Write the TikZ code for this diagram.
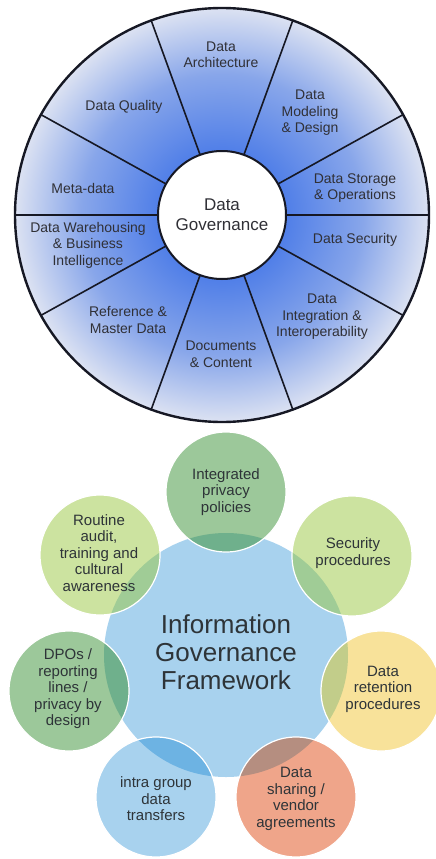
\documentclass[tikz,border=0pt]{standalone}
\usepackage{xcolor}
\usepackage{fontspec}
\setmainfont{Liberation Sans}
\usepackage{tikz}

\definecolor{wheelin}{RGB}{82,128,232}
\definecolor{wheelmid}{RGB}{136,166,234}
\definecolor{wheelout}{RGB}{220,226,242}
\definecolor{rimline}{RGB}{22,24,36}
\definecolor{labeltext}{RGB}{48,48,54}
\definecolor{hubblue}{RGB}{168,210,238}
\definecolor{greenmid}{RGB}{156,200,154}
\definecolor{greenover}{RGB}{111,176,140}
\definecolor{greenlight}{RGB}{204,227,160}
\definecolor{lightover}{RGB}{160,204,150}
\definecolor{yellowsat}{RGB}{248,226,154}
\definecolor{yellowover}{RGB}{194,205,138}
\definecolor{salmonsat}{RGB}{239,165,138}
\definecolor{salmonover}{RGB}{181,142,128}
\definecolor{blueover}{RGB}{109,179,227}
\definecolor{sattextcol}{RGB}{46,52,56}

\pgfdeclareradialshading{wheelshade}{\pgfpoint{0bp}{0bp}}{color(0bp)=(wheelin); color(8bp)=(wheelin); color(17bp)=(wheelmid); color(25bp)=(wheelout); color(50bp)=(wheelout)}

\tikzset{
  spoke/.style={draw=rimline, line width=1.6pt},
  seg/.style={font=\fontsize{14}{16.5}\selectfont, text=labeltext, align=center, inner sep=0pt},
  hubwhite/.style={circle, fill=white, draw=rimline, line width=2pt, minimum size=128pt, inner sep=0pt,
    font=\fontsize{17}{20}\selectfont, text=labeltext, align=center},
  title/.style={font=\fontsize{26}{28}\selectfont, text=sattextcol, align=center, inner sep=0pt},
  sattext/.style={font=\fontsize{15}{16.5}\selectfont, text=sattextcol, align=center, inner sep=0pt}
}

\begin{document}
\begin{tikzpicture}[x=1pt,y=-1pt]
\useasboundingbox (0,0) rectangle (436,859);

% Roue du haut (degrade)
\shade[shading=wheelshade] (222,215) circle[radius=207];

% Rayons
\foreach \a in {0,29,70,110,151,180,209,250,290,331}
  \draw[spoke] (222,215) -- ++(\a:207);

% Bord exterieur
\draw[rimline, line width=2.4pt] (222,215) circle[radius=207];

% Cercle central
\node[hubwhite] (dg) at (222,215) {Data\\Governance};

% Textes des secteurs
\node[seg] (arch) at (221,55) {Data\\Architecture};
\node[seg] (model) at (310,113) {Data\\Modeling\\\& Design};
\node[seg] (store) at (355,188) {Data Storage\\\& Operations};
\node[seg] (secu) at (355,240) {Data Security};
\node[seg] (integ) at (322,317) {Data\\Integration \&\\Interoperability};
\node[seg] (docs) at (221,354) {Documents\\\& Content};
\node[seg] (ref) at (128,320) {Reference \&\\Master Data};
\node[seg] (dw) at (88,245) {Data Warehousing\\\& Business\\Intelligence};
\node[seg] (meta) at (83,188) {Meta-data};
\node[seg] (qual) at (124,107) {Data Quality};

% Grand cercle du bas
\fill[hubblue] (226,655) circle[radius=122];

% Cercles autour (couleur, puis zone commune plus foncee)
\foreach \x/\y/\fc/\oc in {226/492/greenmid/greenover, 352/556/greenlight/lightover,
    381/691/yellowsat/yellowover, 296/797/salmonsat/salmonover,
    156/797/hubblue/blueover, 69/691/greenmid/greenover, 100/555/greenlight/lightover}
{
  \fill[\fc] (\x,\y) circle[radius=60];
  \begin{scope}
    \clip (226,655) circle[radius=122];
    \fill[\oc] (\x,\y) circle[radius=60];
  \end{scope}
  \draw[white, line width=1.2pt] (\x,\y) circle[radius=60];
}

% Textes du bas
\node[title] (igf) at (226,652) {Information\\Governance\\Framework};
\node[sattext] (privacy) at (226,492) {Integrated\\privacy\\policies};
\node[sattext] (security) at (353,553) {Security\\procedures};
\node[sattext] (retention) at (383,689) {Data\\retention\\procedures};
\node[sattext] (sharing) at (296,799) {Data\\sharing /\\vendor\\agreements};
\node[sattext] (intra) at (156,799) {intra group\\data\\transfers};
\node[sattext] (dpo) at (68,689) {DPOs /\\reporting\\lines /\\privacy by\\design};
\node[sattext] (audit) at (99,553) {Routine\\audit,\\training and\\cultural\\awareness};

\end{tikzpicture}
\end{document}
